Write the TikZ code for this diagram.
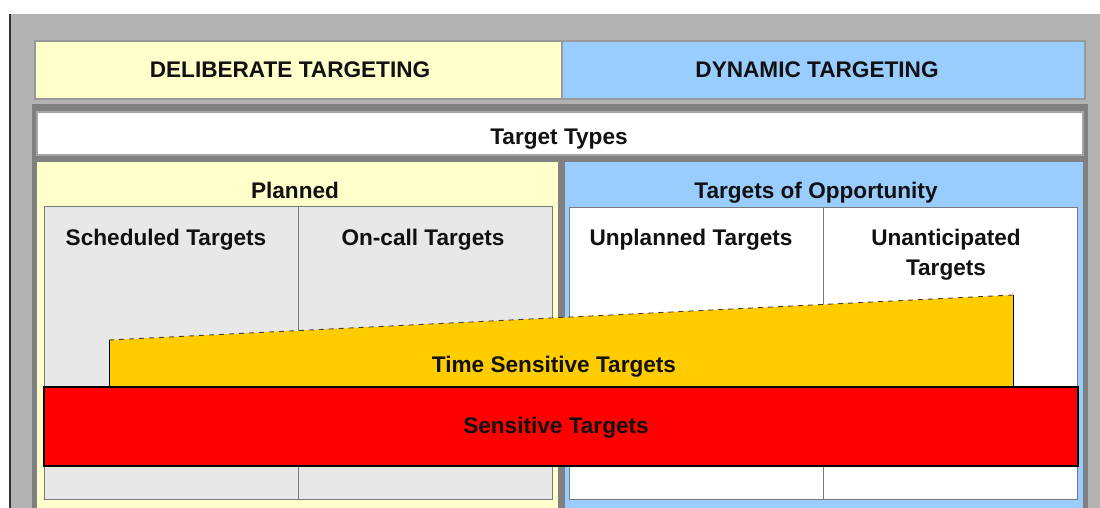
\documentclass[tikz,border=0pt]{standalone}
\usepackage{fontspec}
\setmainfont{Liberation Sans}
\definecolor{bggray}{HTML}{B3B3B3}
\definecolor{framegray}{HTML}{808080}
\definecolor{edgegray}{HTML}{999999}
\definecolor{cellgray}{HTML}{E8E8E8}
\definecolor{paleyellow}{HTML}{FFFFCC}
\definecolor{skyblue}{HTML}{99CCFF}
\definecolor{amber}{HTML}{FFCC00}
\definecolor{inkblack}{HTML}{111111}
\begin{document}
\begin{tikzpicture}[x=1pt,y=-1pt,
  panel/.style={draw=edgegray,line width=1.2pt,inner sep=0pt,outer sep=0pt},
  cell/.style={draw=edgegray!80!black,line width=1pt,inner sep=0pt,outer sep=0pt},
  lbl/.style={inner sep=0pt,anchor=base,text=inkblack,
    font=\fontsize{22.6}{30}\selectfont\bfseries}]
\useasboundingbox (0,0) rectangle (1100,508);
% page background and left rule
\fill[bggray] (11,14) rectangle (1100,508);
\draw[line width=2pt,black!80] (10,14) -- (10,508);

% headings
\path[panel,fill=paleyellow] (35,41) rectangle (562,99);
\node[lbl] (deliberate) at (290,78) {DELIBERATE TARGETING};
\path[panel,fill=skyblue] (562,41) rectangle (1085,99);
\node[lbl] (dynamic) at (817,78) {DYNAMIC TARGETING};

% dark frame holding the target types
\fill[framegray] (32,104) rectangle (1088,508);
\path[panel,draw=black!35,fill=white] (37,112) rectangle (1083,155);
\node[lbl] (types) at (559,145) {Target Types};

% planned side
\fill[paleyellow] (37,162) rectangle (558,508);
\node[lbl] (planned) at (295,198) {Planned};
\path[cell,fill=cellgray] (44,206) rectangle (298,499);
\path[cell,fill=cellgray] (298,206) rectangle (552,499);
\node[lbl] (scheduled) at (166,245) {Scheduled Targets};
\node[lbl] (oncall) at (423,245) {On-call Targets};

% targets of opportunity side
\fill[skyblue] (565,162) rectangle (1083,508);
\node[lbl] (opportunity) at (816,198) {Targets of Opportunity};
\path[cell,fill=white] (569,207) rectangle (823,499);
\path[cell,fill=white] (823,207) rectangle (1077,499);
\node[lbl] (unplanned) at (691,245) {Unplanned Targets};
% base anchor of a two-line node sits on its last line
\node[lbl,align=center] (unanticipated) at (946,275) {Unanticipated\\Targets};

% time sensitive wedge
\fill[amber] (109,387) -- (109,340) -- (1013,295) -- (1013,387) -- cycle;
\draw[line width=0.9pt,black] (109,387) -- (109,340);
\draw[line width=0.9pt,black] (1013,295) -- (1013,387);
\draw[line width=0.9pt,black!75,dash pattern=on 5pt off 5pt] (109,340) -- (1013,295);
\node[lbl] (timesensitive) at (554,372) {Time Sensitive Targets};

% sensitive band
\path[draw=black,line width=1.1pt,fill=red] (44,387) rectangle (1078,466);
\node[lbl] (sensitive) at (556,433) {Sensitive Targets};
\end{tikzpicture}
\end{document}
